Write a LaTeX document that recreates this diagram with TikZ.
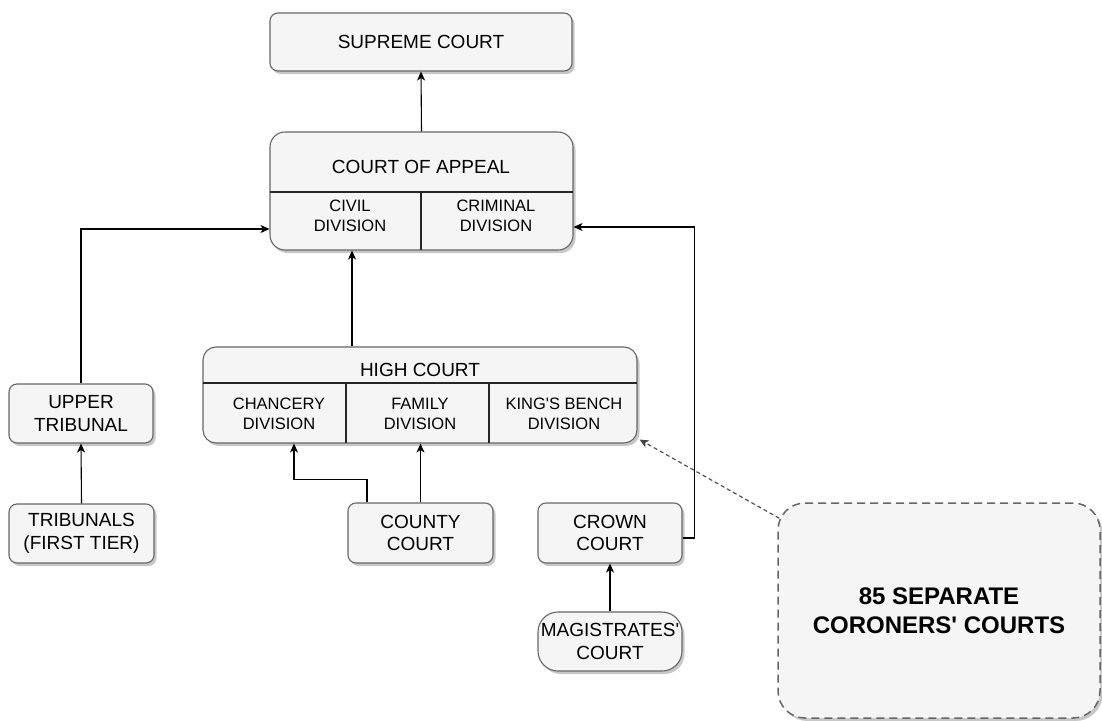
\documentclass[tikz,border=0pt]{standalone}
\usepackage{fontspec}
\setmainfont{Liberation Sans}
\usetikzlibrary{shadows,arrows.meta,calc}
\definecolor{boxfill}{HTML}{F5F5F5}
\definecolor{boxline}{HTML}{666666}
\definecolor{dashline}{HTML}{444444}
\begin{document}
\begin{tikzpicture}[x=1pt,y=-1pt,
  box/.style={draw=boxline, fill=boxfill, line width=1.1pt, rounded corners=8pt,
    drop shadow={shadow xshift=2.5pt,shadow yshift=-3pt,fill=black,opacity=0.22},
    inner sep=0pt, align=center, text=black, font=\fontsize{19}{22.8}\selectfont},
  lbl/.style={inner sep=0pt, align=center, text=black, font=\fontsize{19}{22.8}\selectfont},
  sub/.style={inner sep=0pt, align=center, text=black, font=\fontsize{16.5}{19.8}\selectfont},
  conn/.style={draw=black, line width=1.1pt, -{Stealth[length=9pt,width=8pt,inset=2.5pt]}},
  divline/.style={draw=black!85, line width=1.1pt}
]
\useasboundingbox (0,0) rectangle (1102,720);

% Supreme Court
\node[box, minimum width=302pt, minimum height=58pt] (supreme) at (421,42) {SUPREME COURT};

% Court of Appeal
\node[box, rounded corners=15pt, minimum width=303pt, minimum height=118pt] (coa) at (421.5,191) {};
\draw[divline] (270,192) -- (573,192);
\draw[divline] (421,192) -- (421,250);
\node[lbl] (coat) at (421,167) {COURT OF APPEAL};
\node[sub] (civ) at (350,216) {CIVIL\\DIVISION};
\node[sub] (crim) at (496,216) {CRIMINAL\\DIVISION};

% High Court
\node[box, rounded corners=13pt, minimum width=434pt, minimum height=96pt] (hc) at (420,395) {};
\draw[divline] (203,383) -- (637,383);
\draw[divline] (346,383) -- (346,443);
\draw[divline] (489,383) -- (489,443);
\node[lbl] (hct) at (420,370) {HIGH COURT};
\node[sub] (chan) at (279,414) {CHANCERY\\DIVISION};
\node[sub] (fam) at (420,414) {FAMILY\\DIVISION};
\node[sub] (kb) at (564,414) {KING\textquotesingle S BENCH\\DIVISION};

% Tribunals
\node[box, minimum width=144pt, minimum height=59pt] (ut) at (81,413.5) {UPPER\\TRIBUNAL};
\node[box, minimum width=145pt, minimum height=59pt] (tft) at (81.5,533.5) {TRIBUNALS\\(FIRST TIER)};

% Lower courts
\node[box, minimum width=145pt, minimum height=60pt] (county) at (420.5,533) {COUNTY\\COURT};
\node[box, minimum width=144pt, minimum height=60pt] (crown) at (610,533) {CROWN\\COURT};
\node[box, rounded corners=20pt, minimum width=144pt, minimum height=59pt] (mag) at (610,641.5) {MAGISTRATES\textquotesingle\\COURT};

% Coroners
\node[box, draw=boxline, dash pattern=on 8pt off 5pt, line width=1.5pt, rounded corners=27pt,
  minimum width=322pt, minimum height=215pt, font=\fontsize{24}{28.8}\selectfont\bfseries]
  (cor) at (939,610.5) {85 SEPARATE\\CORONERS\textquotesingle{} COURTS};

% Connectors
\draw[conn] (coa.north) -- (supreme.south);
\draw[conn] ([xshift=2pt]civ.south |- hc.north) -- ([xshift=2pt]civ.south |- coa.south);
\draw[conn] (ut.north) |- ([yshift=-38pt]coa.west);
\draw[conn] (tft.north) -- (ut.south);
\draw[conn] (county.north) -- (county.north |- hc.south);
\draw[conn] ([xshift=-53.5pt]county.north) -- ++(0,-23) -| ([xshift=15pt]chan.south |- hc.south);
\draw[conn] (mag.north) -- (crown.south);
\draw[conn] ([yshift=-5pt]crown.east) -- ++(12,0) |- ([yshift=-36pt]coa.east);
\draw[conn, draw=dashline, dash pattern=on 4pt off 3pt] ([xshift=2pt,yshift=-16pt]cor.north west) -- ([xshift=2pt,yshift=4pt]hc.south east);
\end{tikzpicture}
\end{document}
